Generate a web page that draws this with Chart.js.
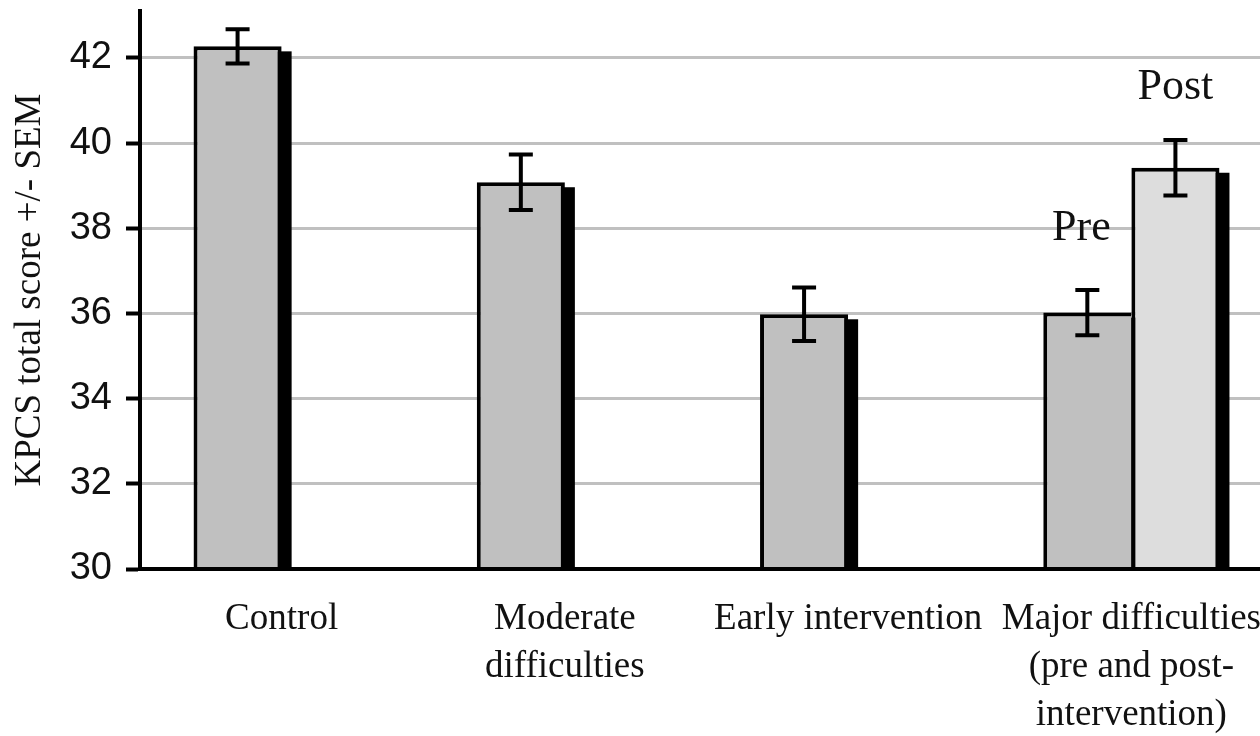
<!DOCTYPE html>
<html>
<head>
<meta charset="utf-8">
<script src="https://cdn.jsdelivr.net/npm/chart.js@4.4.1/dist/chart.umd.min.js"></script>
<style>
    html, body { margin: 0; padding: 0; background: #fff; overflow: hidden; }
    #wrap { width: 1273px; height: 736px; }
</style>
</head>
<body>
<div id="wrap"><canvas id="kpcs_chart"></canvas></div>
<script>
'use strict';

// chart data
var groups = [
    ['Control'],
    ['Moderate', 'difficulties'],
    ['Early intervention'],
    ['Major difficulties', '(pre and post-', 'intervention)']
];
var pre_scores  = [42.27, 39.08, 35.98, 36.02];
var pre_sem     = [0.4, 0.65, 0.63, 0.53];
var post_scores = [null, null, null, 39.42];
var post_sem    = [null, null, null, 0.65];
var note_labels = ['Pre', 'Post'];
var note_values = [38.0, 41.3];
var y_ticks     = [30, 32, 34, 36, 38, 40, 42];
var y_max       = 43.1;

var serif = '"Liberation Serif", "Times New Roman", serif';
var sans  = '"Liberation Sans", Arial, sans-serif';
var sems  = [pre_sem, post_sem];

// ------------------------------------------------------- //
// black drop shadow behind each bar
// ------------------------------------------------------ //
var barShadow = {
    id: 'barShadow',
    beforeDatasetsDraw: function (chart) {
        var ctx = chart.ctx;
        var bottom = chart.chartArea.bottom;
        ctx.save();
        ctx.fillStyle = '#000';
        chart.data.datasets.forEach(function (ds, i) {
            chart.getDatasetMeta(i).data.forEach(function (bar, j) {
                if (ds.data[j] === null) return;
                var base = Math.min(bar.base, bottom);
                ctx.fillRect(bar.x - bar.width / 2 + 10, bar.y + 5, bar.width, base - bar.y - 5);
            });
        });
        ctx.restore();
    }
};

// ------------------------------------------------------- //
// SEM error bars + Pre / Post notes
// ------------------------------------------------------ //
var errorBars = {
    id: 'errorBars',
    afterDatasetsDraw: function (chart) {
        var ctx = chart.ctx;
        var yScale = chart.scales.y;
        ctx.save();
        ctx.strokeStyle = '#000';
        ctx.lineWidth = 4;
        chart.data.datasets.forEach(function (ds, i) {
            chart.getDatasetMeta(i).data.forEach(function (bar, j) {
                var v = ds.data[j];
                if (v === null) return;
                var top = yScale.getPixelForValue(v + sems[i][j]);
                var bot = yScale.getPixelForValue(v - sems[i][j]);
                ctx.beginPath();
                ctx.moveTo(bar.x, top); ctx.lineTo(bar.x, bot);
                ctx.moveTo(bar.x - 12, top); ctx.lineTo(bar.x + 12, top);
                ctx.moveTo(bar.x - 12, bot); ctx.lineTo(bar.x + 12, bot);
                ctx.stroke();
            });
        });

        ctx.font = '44px ' + serif;
        ctx.fillStyle = '#111';
        ctx.textAlign = 'center';
        ctx.textBaseline = 'middle';
        note_labels.forEach(function (txt, i) {
            var bar = chart.getDatasetMeta(i).data[3];
            ctx.fillText(txt, bar.x - (i === 0 ? 6 : 0), yScale.getPixelForValue(note_values[i]));
        });
        ctx.restore();
    }
};

var kpcsChart = new Chart(document.getElementById('kpcs_chart'), {
    type: 'bar',
    data: {
        labels: groups,
        datasets: [
            {
                label: 'Pre',
                data: pre_scores,
                backgroundColor: '#c0c0c0',
                borderColor: '#000',
                borderWidth: function (c) {
                    return c.dataIndex === 3 ? { top: 4, left: 4, right: 0, bottom: 0 } : 4;
                },
                categoryPercentage: 0.622,
                barPercentage: 1
            },
            {
                label: 'Post',
                data: post_scores,
                backgroundColor: '#dddddd',
                borderColor: '#000',
                borderWidth: 4,
                categoryPercentage: 0.622,
                barPercentage: 1
            }
        ]
    },
    plugins: [barShadow, errorBars],
    options: {
        responsive: true,
        maintainAspectRatio: false,
        animation: false,
        layout: { padding: { top: 11, left: 0, right: 0, bottom: 0 } },
        plugins: {
            legend: { display: false },
            tooltip: { enabled: false }
        },
        scales: {
            x: {
                grid: { display: false },
                border: { color: '#000', width: 4, z: 1 },
                ticks: {
                    color: '#111',
                    autoSkip: false,
                    maxRotation: 0,
                    padding: 18,
                    font: { family: serif, size: 37, lineHeight: 1.3 }
                },
                afterFit: function (axis) {
                    axis.height = 167;
                    axis.paddingLeft = 0;
                    axis.paddingRight = 0;
                }
            },
            y: {
                min: y_ticks[0],
                max: y_max,
                bounds: 'data',
                grid: { color: '#c0c0c0', lineWidth: 3, tickColor: '#000', tickWidth: 4, tickLength: 14 },
                border: { color: '#000', width: 4, z: 1 },
                afterBuildTicks: function (axis) {
                    axis.ticks = y_ticks.map(function (v) { return { value: v }; });
                },
                ticks: {
                    color: '#111',
                    padding: 14,
                    font: { family: sans, size: 38 }
                },
                title: {
                    display: true,
                    text: 'KPCS total score +/- SEM',
                    color: '#111',
                    font: { family: serif, size: 37 },
                    padding: { top: 8, bottom: 0 }
                },
                afterFit: function (axis) {
                    axis.width = 140;
                    axis.paddingTop = 0;
                    axis.paddingBottom = 0;
                }
            }
        }
    }
});
</script>
</body>
</html>
